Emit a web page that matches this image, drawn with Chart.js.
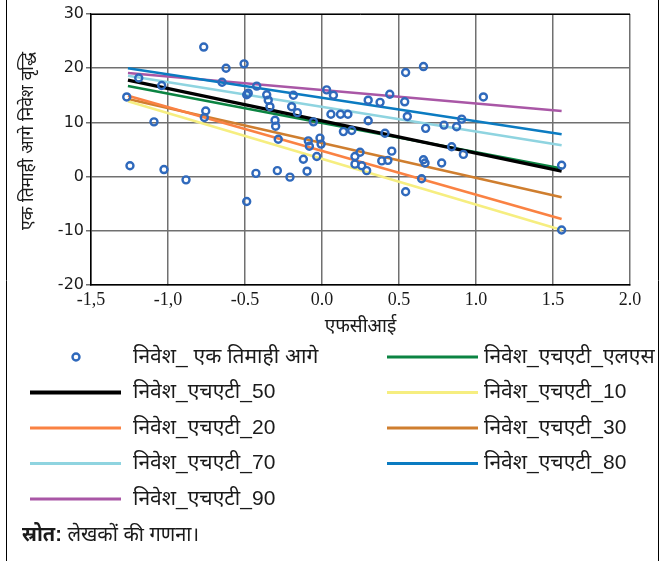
<!DOCTYPE html>
<html>
<head>
<meta charset="utf-8">
<script src="https://cdn.jsdelivr.net/npm/chart.js@4.4.1/dist/chart.umd.min.js"></script>
<style>
body{margin:0;background:#fff}
#wrap{width:666px;height:561px;position:relative}
</style>
</head>
<body>
<div id="wrap"><canvas id="grafico" width="666" height="561"></canvas></div>
<script>
// pontos: FCI x crescimento do investimento um trimestre a frente
let pontosX=[-1.268,-1.247,-1.19,-1.091,-1.041,-1.026,-0.883,-0.768,-0.755,-0.764,-0.649,-0.623,-0.506,-0.489,-0.479,-0.489,-0.424,-0.429,-0.359,-0.349,-0.338,-0.305,-0.301,-0.284,-0.29,-0.208,-0.186,-0.197,-0.16,-0.121,-0.097,-0.089,-0.082,-0.056,-0.013,-0.006,-0.034,0.03,0.074,0.058,0.12,0.168,0.139,0.193,0.30,0.30,0.377,0.44,0.409,0.247,0.214,0.214,0.258,0.29,0.453,0.388,0.428,0.543,0.659,0.537,0.554,0.673,0.543,0.647,0.659,0.669,0.777,0.792,0.874,0.907,0.842,0.918,1.048,1.556,1.556]
let pontosY=[14.7,2.0,18.2,10.1,16.8,1.3,-0.6,23.9,12.1,10.9,17.4,20.0,20.8,15.1,15.4,-4.6,16.7,0.6,15.1,14.1,12.9,10.4,9.3,6.9,1.1,-0.1,15.0,12.9,11.8,3.2,1.0,6.6,5.6,10.1,7.1,6.0,3.7,16.0,15.0,11.5,11.5,11.5,8.3,8.5,10.3,14.1,13.7,15.2,8.0,4.5,3.7,2.3,2.0,1.1,4.7,2.9,3.0,19.2,20.3,13.8,11.1,8.9,-2.8,-0.4,3.1,2.5,2.5,9.5,9.2,10.6,5.5,4.1,14.7,2.1,-9.85]

// retas de regressao quantilica: inicio e fim
let retaX=[-1.26,1.556]
let nomesRetas=["निवेश_एचएटी_एलएस","निवेश_एचएटी_50","निवेश_एचएटी_10","निवेश_एचएटी_20","निवेश_एचएटी_30","निवेश_एचएटी_70","निवेश_एचएटी_80","निवेश_एचएटी_90"]
let retaInicio=[16.7,17.8,13.9,14.9,14.3,18.6,20.0,19.1]
let retaFim=[1.5,1.0,-9.85,-7.8,-3.8,5.8,7.8,12.1]
let coresRetas=["#0b8442","#000000","#f6ee80","#fa8243","#cf7e2f","#8fd4e0","#0b7bc1","#a957a6"]

let xTicks=["-1,5","-1,0","-0.5","0.0","0.5","1.0","1.5","2.0"]
let yTicks=["-20","-10","0","10","20","30"]

let datasets=[{
label:"निवेश_ एक तिमाही आगे",
type:"scatter",
data:pontosX.map((x,i)=>({x:x,y:pontosY[i]})),
pointRadius:3.5,
pointBorderWidth:2.4,
borderColor:"#2f69bc",
backgroundColor:"rgba(0,0,0,0)",
pointStyle:"circle",
order:0
}]

nomesRetas.forEach((n,i)=>{
datasets.push({
label:n,
type:"line",
data:[{x:retaX[0],y:retaInicio[i]},{x:retaX[1],y:retaFim[i]}],
borderColor:coresRetas[i],
borderWidth:i==1?3.2:2.6,
pointRadius:0,
fill:false,
order:i==1?1:2
})
})

let fonte="'Liberation Sans', 'Noto Sans', sans-serif"

let moldura={
id:"moldura",
afterDraw(chart){
let c=chart.ctx
let a=chart.chartArea
c.save()
// topo da area do grafico
c.strokeStyle="#000"
c.lineWidth=1
c.beginPath();c.moveTo(a.left,a.top+0.5);c.lineTo(a.right,a.top+0.5);c.stroke()
// bordas da figura
c.beginPath();c.moveTo(6.5,0);c.lineTo(6.5,561);c.stroke()
c.beginPath();c.moveTo(658.5,0);c.lineTo(658.5,561);c.stroke()

c.fillStyle="#1a1a1a"
c.font="19px "+fonte
c.textAlign="center"
c.textBaseline="middle"
c.fillText("एफसीआई",(a.left+a.right)/2,327)
c.font="17.5px "+fonte
c.save()
c.translate(28,141)
c.rotate(-Math.PI/2)
c.fillText("एक तिमाही आगे निवेश वृद्धि",0,0)
c.restore()

// legenda em duas colunas
c.textAlign="left"
c.font="21px "+fonte
chart.data.datasets.forEach((d,i)=>{
let col=i%2
let row=Math.floor(i/2)
let lx=col==0?30:387
let tx=col==0?133:484
let y=357+row*35.5
if(d.type=="scatter"){
c.strokeStyle=d.borderColor
c.lineWidth=2.4
c.beginPath();c.arc(lx+46,y,3.5,0,Math.PI*2);c.stroke()
}else{
c.strokeStyle=d.borderColor
c.lineWidth=d.borderWidth+0.6
c.beginPath();c.moveTo(lx,y);c.lineTo(lx+91,y);c.stroke()
}
c.fillStyle="#1a1a1a"
c.fillText(d.label,tx,y)
})

c.font="bold 20px "+fonte
c.fillText("स्रोत:",22,535)
let w=c.measureText("स्रोत: ").width
c.font="20px "+fonte
c.fillText("लेखकों की गणना।",22+w,535)
c.restore()
}
}

new Chart(document.getElementById("grafico"),{
type:"scatter",
data:{datasets:datasets},
options:{
responsive:false,
animation:false,
devicePixelRatio:1,
layout:{padding:{top:14,right:36,left:0,bottom:0}},
plugins:{legend:{display:false},tooltip:{enabled:false}},
scales:{
x:{
type:"linear",min:-1.5,max:2.0,
afterFit:s=>{s.height=276},
ticks:{stepSize:0.5,color:"#1a1a1a",padding:4,font:{family:"'Liberation Serif', serif",size:18},
callback:(v,i)=>xTicks[i]},
grid:{color:"#707070",lineWidth:1.5,tickLength:0},
border:{color:"#000",width:1.5}
},
y:{
type:"linear",min:-20,max:30,
afterFit:s=>{s.width=91},
ticks:{stepSize:10,color:"#1a1a1a",padding:2,font:{family:"'DejaVu Sans', sans-serif",size:16},
callback:(v,i)=>yTicks[i]},
grid:{color:"#707070",lineWidth:1.5,tickLength:5},
border:{color:"#000",width:1.5}
}
}
},
plugins:[moldura]
})
</script>
</body>
</html>
